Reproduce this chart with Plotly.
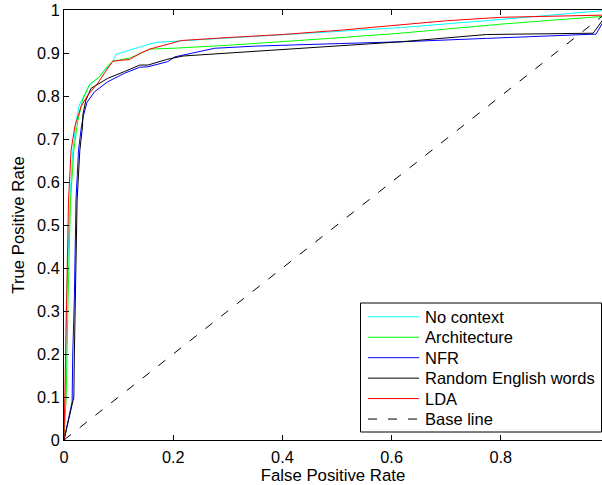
import plotly.graph_objects as go

# ---- data ----
lda_x = [0, 0.0015, 0.0025, 0.0039, 0.006, 0.0083, 0.013, 0.02, 0.0266, 0.031, 0.0436, 0.062, 0.075, 0.0894,
         0.12, 0.139, 0.157, 0.19, 0.215, 0.3, 0.4, 0.506, 0.578, 0.616, 0.7, 0.8, 0.9, 0.96, 0.985, 1.0]
lda_y = [0, 0.1, 0.25, 0.33, 0.45, 0.558, 0.674, 0.73, 0.756, 0.775, 0.802, 0.830, 0.855, 0.881,
         0.885, 0.899, 0.909, 0.92, 0.929, 0.936, 0.943, 0.953, 0.961, 0.965, 0.975, 0.983, 0.985, 0.986, 0.988, 1.0]

noctx_x = [0, 0.003, 0.004, 0.0075, 0.011, 0.016, 0.022, 0.028, 0.036, 0.0467, 0.065, 0.0894, 0.0955,
           0.139, 0.160, 0.172, 0.3, 0.506, 0.616, 0.8, 0.9, 0.985, 1.0]
noctx_y = [0, 0.1, 0.3, 0.45, 0.56, 0.67, 0.74, 0.779, 0.80, 0.826, 0.845, 0.881, 0.897,
           0.915, 0.922, 0.925, 0.935, 0.950, 0.959, 0.978, 0.988, 0.998, 1.0]

arch_x = [0, 0.004, 0.0075, 0.012, 0.018, 0.025, 0.034, 0.0467, 0.065, 0.080, 0.0894, 0.12, 0.139, 0.157,
          0.2, 0.3, 0.487, 0.616, 0.799, 0.9, 0.985, 1.0]
arch_y = [0, 0.1, 0.33, 0.558, 0.674, 0.74, 0.791, 0.826, 0.845, 0.870, 0.881, 0.888, 0.898, 0.909,
          0.911, 0.918, 0.934, 0.946, 0.967, 0.977, 0.985, 1.0]

nfr_x = [0, 0.0149, 0.016, 0.019, 0.022, 0.0266, 0.032, 0.036, 0.042, 0.056, 0.080, 0.111, 0.139, 0.154,
         0.19, 0.203, 0.276, 0.35, 0.506, 0.616, 0.774, 0.9, 0.9745, 1.0]
nfr_y = [0, 0.089, 0.2, 0.33, 0.558, 0.674, 0.73, 0.756, 0.785, 0.810, 0.833, 0.853, 0.867, 0.868,
         0.880, 0.891, 0.911, 0.916, 0.922, 0.926, 0.934, 0.940, 0.944, 1.0]

rand_x = [0, 0.018, 0.019, 0.021, 0.024, 0.029, 0.034, 0.0345, 0.040, 0.0497, 0.080, 0.111, 0.139, 0.154,
          0.188, 0.218, 0.3, 0.4, 0.506, 0.616, 0.774, 0.9, 0.969, 1.0]
rand_y = [0, 0.1, 0.2, 0.33, 0.558, 0.674, 0.73, 0.756, 0.79, 0.818, 0.841, 0.857, 0.872, 0.872,
          0.885, 0.893, 0.90, 0.907, 0.916, 0.926, 0.943, 0.945, 0.946, 1.0]

base_x = [0, 1]
base_y = [0, 1]

names = ["No context", "Architecture", "NFR", "Random English words", "LDA", "Base line"]
xs = [noctx_x, arch_x, nfr_x, rand_x, lda_x, base_x]
ys = [noctx_y, arch_y, nfr_y, rand_y, lda_y, base_y]
colors = ["#00ffff", "#00ff00", "#0000ff", "#000000", "#ff0000", "#000000"]
dashes = ["solid", "solid", "solid", "solid", "solid", "9px,11px"]

FONT = "Liberation Sans, Arial, Helvetica, sans-serif"

# ---- layout geometry (pixels) ----
W, H = 602, 485
ML, MR, MT, MB = 64, 0, 10, 45
PW, PH = W - ML - MR, H - MT - MB


def px_x(p):
    return (p - ML) / PW


def px_y(p):
    return (H - MB - p) / PH


fig = go.Figure()
for n, x, y, c, d in zip(names, xs, ys, colors, dashes):
    fig.add_trace(go.Scatter(x=x, y=y, mode="lines", name=n, showlegend=False,
                             line=dict(color=c, width=1, dash=d)))

# ---- legend box drawn as layout decoration ----
shapes = [dict(type="rect", xref="paper", yref="paper",
               x0=px_x(360.5), x1=px_x(601.5), y0=px_y(432), y1=px_y(303),
               line=dict(color="black", width=1), fillcolor="white", layer="above")]
annotations = []
row0, row_step = 316.8, 20.45
for i, (n, c, d) in enumerate(zip(names, colors, dashes)):
    ry = row0 + i * row_step
    shapes.append(dict(type="line", xref="paper", yref="paper",
                       x0=px_x(368), x1=px_x(419), y0=px_y(ry), y1=px_y(ry),
                       line=dict(color=c, width=1, dash=d), layer="above"))
    annotations.append(dict(text=n, xref="paper", yref="paper", x=px_x(423), y=px_y(ry),
                            xanchor="left", yanchor="middle", showarrow=False,
                            font=dict(family=FONT, size=16.5, color="black")))

fig.update_layout(
    width=W, height=H,
    margin=dict(l=ML, r=MR, t=MT, b=MB),
    paper_bgcolor="white", plot_bgcolor="white",
    font=dict(family=FONT, size=14, color="black"),
    showlegend=False,
    shapes=shapes,
    annotations=annotations,
    xaxis=dict(range=[0, 0.9853], tickvals=[0, 0.2, 0.4, 0.6, 0.8],
               ticktext=["0", "0.2", "0.4", "0.6", "0.8"],
               tickfont=dict(size=16.3), ticklabelstandoff=2,
               ticks="inside", ticklen=5, tickcolor="black",
               showline=True, linecolor="black", linewidth=1, mirror="ticks",
               showgrid=False, zeroline=False,
               title=dict(text="False Positive Rate", standoff=8, font=dict(size=16.8))),
    yaxis=dict(range=[0, 1], tickvals=[i / 10 for i in range(11)],
               ticktext=["0", "0.1", "0.2", "0.3", "0.4", "0.5", "0.6", "0.7", "0.8", "0.9", "1"],
               tickfont=dict(size=16.3),
               ticks="inside", ticklen=5, tickcolor="black",
               showline=True, linecolor="black", linewidth=1, mirror=False,
               showgrid=False, zeroline=False,
               title=dict(text="True Positive Rate", standoff=8, font=dict(size=16.8))),
)

fig.write_html("out.html")
